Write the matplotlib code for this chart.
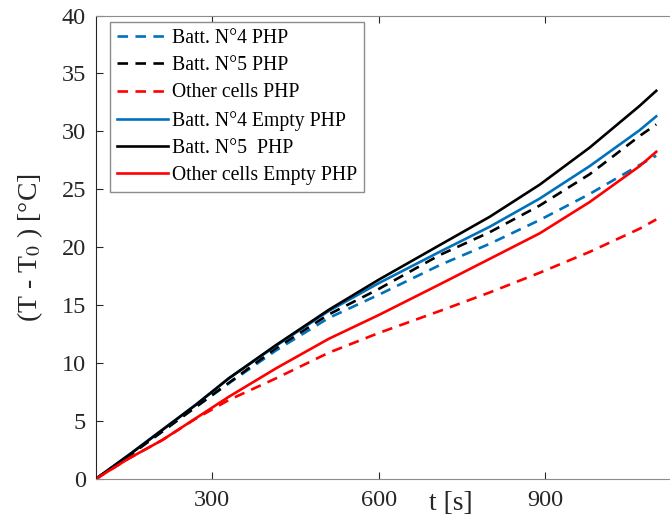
import numpy as np
import matplotlib
matplotlib.use('Agg')
import matplotlib.pyplot as plt

plt.rcParams['font.family'] = ['Liberation Serif', 'DejaVu Serif']
plt.rcParams['mathtext.fontset'] = 'stix'

# time [s] and temperature rise [degC]
t = [90, 150, 210, 270, 330, 415, 510, 600, 710, 800, 890, 980, 1070, 1100]
batt4_php = [0, 2.0, 4.1, 6.2, 8.26, 11.1, 13.9, 15.9, 18.46, 20.3, 22.35, 24.6, 27.1, 27.9]
batt5_php = [0, 2.0, 4.1, 6.2, 8.3, 11.3, 14.2, 16.4, 19.33, 21.3, 23.6, 26.3, 29.6, 30.6]
other_php = [0, 1.78, 3.36, 5.2, 6.82, 8.69, 10.9, 12.6, 14.5, 16.1, 17.8, 19.6, 21.6, 22.4]
batt4_empty = [0, 2.1, 4.25, 6.4, 8.7, 11.5, 14.5, 16.9, 19.61, 21.77, 24.2, 27.0, 30.1, 31.3]
batt5_empty = [0, 2.07, 4.23, 6.38, 8.69, 11.56, 14.6, 17.2, 20.19, 22.63, 25.4, 28.6, 32.2, 33.5]
other_empty = [0, 1.78, 3.36, 5.23, 7.1, 9.55, 12.1, 14.15, 16.8, 19.0, 21.2, 23.9, 27.0, 28.24]

labels = ['Batt. N°4 PHP', 'Batt. N°5 PHP', 'Other cells PHP',
          'Batt. N°4 Empty PHP', 'Batt. N°5  PHP', 'Other cells Empty PHP']
BLUE = '#0072BD'
RED = '#FF0000'

fig = plt.figure(figsize=(6.7, 5.17), dpi=100)
ax = fig.add_axes([0.1428, 0.0735, 0.9195, 0.8965])

lw = 1.9
dash = (4.0, 2.8)
ax.plot(t, batt4_php, color=BLUE, lw=lw, dashes=dash, label=labels[0])
ax.plot(t, batt5_php, color='k', lw=lw, dashes=dash, label=labels[1])
ax.plot(t, other_php, color=RED, lw=lw, dashes=dash, label=labels[2])
ax.plot(t, batt4_empty, color=BLUE, lw=lw, label=labels[3])
ax.plot(t, batt5_empty, color='k', lw=lw, label=labels[4])
ax.plot(t, other_empty, color=RED, lw=lw, label=labels[5])

ax.set_xlim(90, 1200)
ax.set_ylim(0, 40)
ax.set_xticks([300, 600, 900])
ax.set_yticks(np.arange(0, 41, 5))
ax.tick_params(direction='in', length=5, width=0.8, labelsize=17.5,
               top=True, right=False, colors='#262626', pad=8)
ax.tick_params(axis='y', pad=7)
for s in ['top', 'bottom']:
    ax.spines[s].set_color('#8c8c8c')
ax.spines['left'].set_color('#262626')
ax.spines['right'].set_visible(False)

ax.set_ylabel('(T - T$_0$ ) [°C]', fontsize=20, color='#262626', labelpad=12)
ax.text(0.577, -0.053, 't [s]', transform=ax.transAxes, fontsize=20,
        ha='center', va='center', color='#262626')

leg = ax.legend(loc='upper left', bbox_to_anchor=(0.0232, 0.986), borderaxespad=0,
                fontsize=14.2, handlelength=2.6, labelspacing=0.42, handletextpad=0.2,
                borderpad=0.35, fancybox=False, framealpha=1, edgecolor='#8c8c8c')
leg.get_frame().set_linewidth(1.0)

fig.savefig('out.png', dpi=100)
